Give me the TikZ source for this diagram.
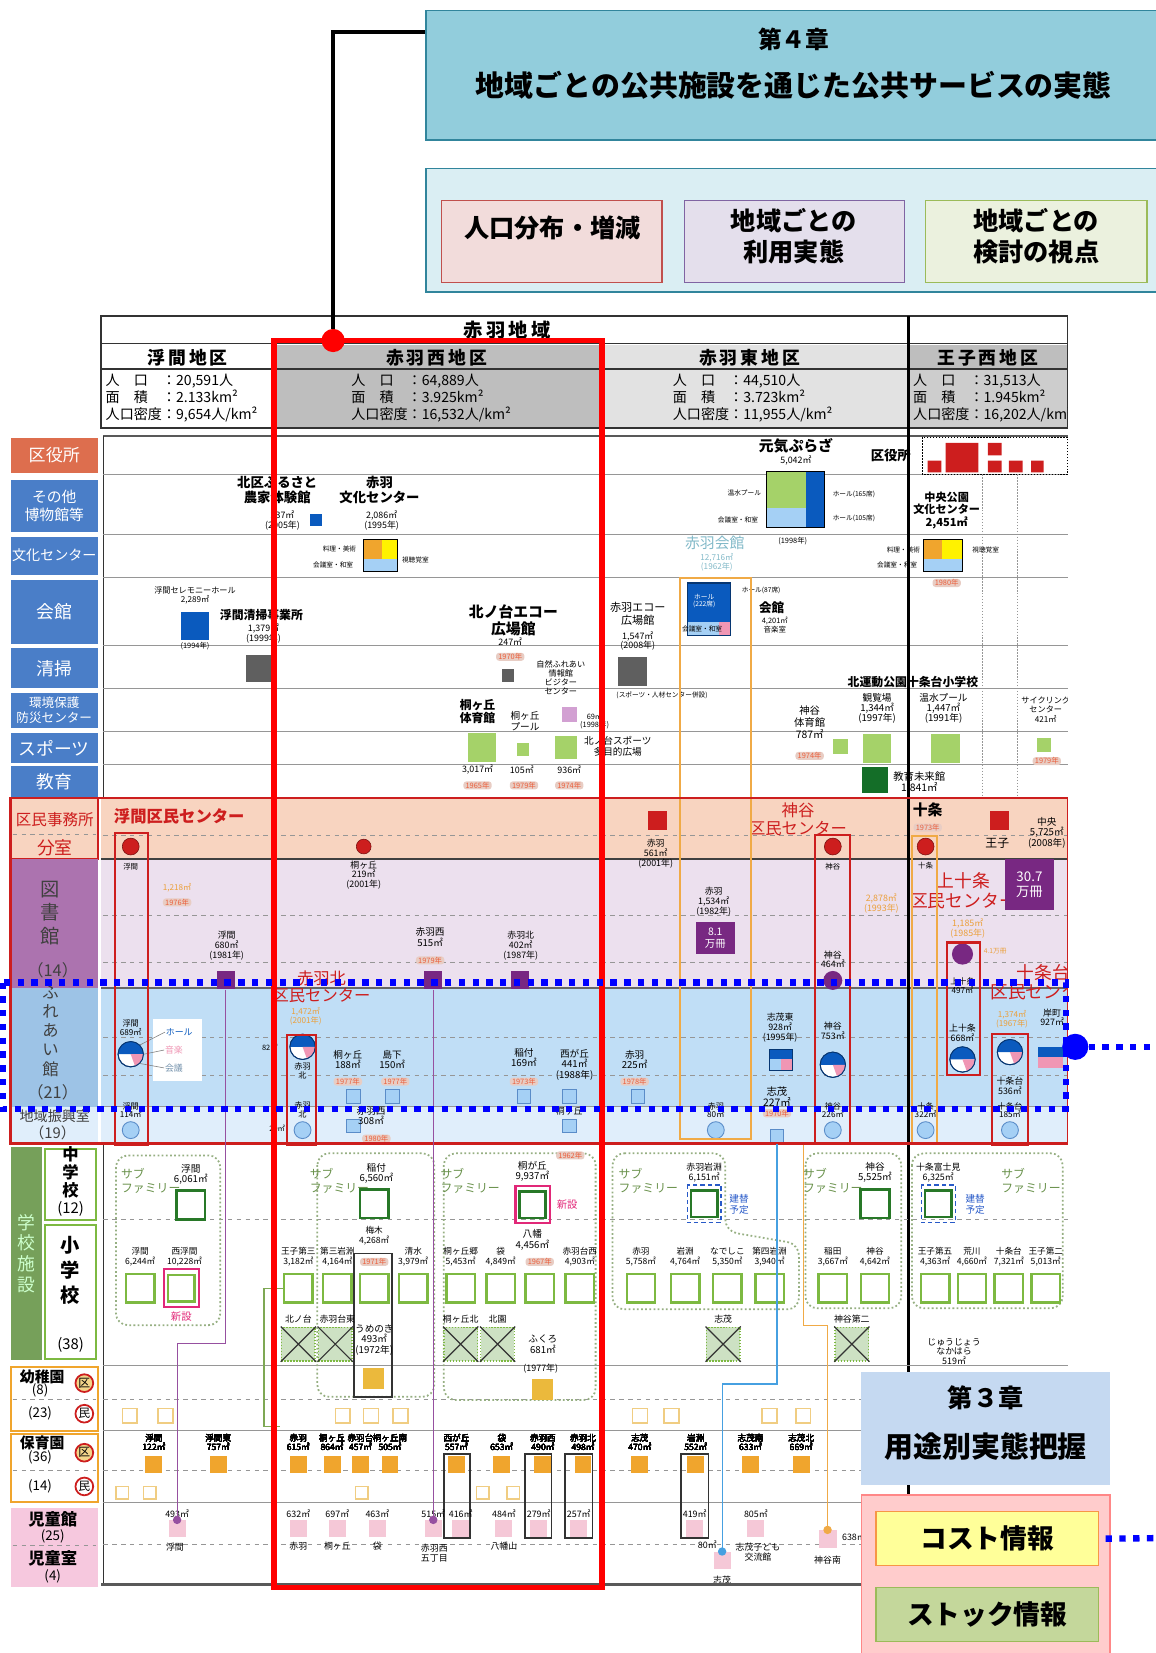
\documentclass[tikz,border=0pt]{standalone}
\usepackage{fontspec}
\setmainfont{Noto Sans CJK JP}
\usetikzlibrary{positioning,fit,calc}
\definecolor{chapteal}{RGB}{146,205,220}
\definecolor{chapedge}{RGB}{49,133,156}
\definecolor{chapbg}{RGB}{218,238,243}
\definecolor{popfill}{RGB}{242,220,219}
\definecolor{popedge}{RGB}{192,80,77}
\definecolor{usefill}{RGB}{228,223,236}
\definecolor{useedge}{RGB}{128,100,162}
\definecolor{viewfill}{RGB}{235,241,222}
\definecolor{viewedge}{RGB}{155,187,89}
\definecolor{chapblue}{RGB}{197,217,241}
\definecolor{infopink}{RGB}{255,204,204}
\definecolor{infoedge}{RGB}{255,135,135}
\definecolor{costyel}{RGB}{255,255,153}
\definecolor{costedge}{RGB}{247,150,70}
\definecolor{stockgrn}{RGB}{196,215,155}
\definecolor{catred}{RGB}{221,110,78}
\definecolor{catblue}{RGB}{74,126,200}
\definecolor{peach}{RGB}{248,212,192}
\definecolor{lavend}{RGB}{236,224,238}
\definecolor{libpurple}{RGB}{172,115,175}
\definecolor{libdark}{RGB}{120,40,130}
\definecolor{fureblue}{RGB}{192,222,246}
\definecolor{fureleft}{RGB}{157,195,230}
\definecolor{shinko}{RGB}{224,238,251}
\definecolor{schoolgrn}{RGB}{118,160,90}
\definecolor{esgreen}{RGB}{125,185,65}
\definecolor{jhsgreen}{RGB}{40,120,40}
\definecolor{subgrn}{RGB}{150,175,130}
\definecolor{subtext}{RGB}{105,145,75}
\definecolor{xfill}{RGB}{205,225,195}
\definecolor{kidorange}{RGB}{240,165,45}
\definecolor{kidline}{RGB}{240,205,130}
\definecolor{kidpink}{RGB}{246,200,222}
\definecolor{hallpink}{RGB}{245,200,215}
\definecolor{umeyel}{RGB}{235,185,60}
\definecolor{bandred}{RGB}{205,30,30}
\definecolor{facblue}{RGB}{10,90,190}
\definecolor{faclight}{RGB}{165,208,245}
\definecolor{facgreen}{RGB}{165,210,105}
\definecolor{facgrey}{RGB}{95,95,95}
\definecolor{facpink}{RGB}{240,150,180}
\definecolor{vispink}{RGB}{210,160,210}
\definecolor{mirai}{RGB}{20,110,40}
\definecolor{yrtext}{RGB}{235,95,60}
\definecolor{yrfill}{RGB}{232,205,196}
\definecolor{areatext}{RGB}{235,160,60}
\definecolor{gridgrey}{RGB}{150,150,150}
\definecolor{hdrgrey}{RGB}{190,190,190}
\definecolor{hdrlight}{RGB}{226,226,226}
\definecolor{hdrmid}{RGB}{205,205,205}
\definecolor{newpink}{RGB}{225,40,120}
\definecolor{planblue}{RGB}{40,90,200}
\definecolor{lineblue}{RGB}{70,160,225}
\definecolor{lineorange}{RGB}{240,170,70}
\definecolor{linepurple}{RGB}{150,80,160}
\definecolor{kaikanfaint}{RGB}{130,185,200}
\definecolor{shinkoedge}{RGB}{90,140,200}
\newcommand{\fs}[2]{\fontsize{#1}{#2}\selectfont}
\newcommand{\fac}[5]{\node[inner sep=0pt,minimum size=#3*0.025cm,#4] (#5) at (#1,#2) {};}
\newcommand{\halfc}[4]{%
  \node[circle,draw=facblue!60!black,fill=white,inner sep=0pt,minimum size=#3*0.05cm,line width=0.6pt] (#4) at (#1,#2) {};
  \fill[facblue] (#1,#2) ++(-#3,0) arc[start angle=180,end angle=360,radius=#3] -- cycle;
  \fill[facpink] (#1,#2) -- ++(#3,0) arc[start angle=0,end angle=70,radius=#3] -- cycle;
  \draw[facblue!60!black,line width=0.6pt] (#1,#2) circle[radius=#3];}
\newcommand{\xbox}[3]{%
  \node[inner sep=0pt,minimum size=32*0.025cm,fill=xfill,draw=esgreen,densely dotted,line width=1pt] (#3) at (#1,#2) {};
  \draw[black!80,line width=0.8pt] (#3.north west) -- (#3.south east) (#3.north east) -- (#3.south west);}

\begin{document}
\begin{tikzpicture}[x=0.025cm,y=-0.025cm,>=latex]
  \tikzset{box/.style={inner sep=0pt,align=center}}
  \tikzset{cat/.style={box,fill=catblue}}
  \tikzset{cattext/.style={inner sep=0pt,align=center,text=white,font=\fs{12}{14}}}
  \tikzset{lbl/.style={inner sep=0.4pt,align=center,font=\fs{6}{6.6}}}
  \tikzset{tinylbl/.style={inner sep=0.3pt,align=center,font=\fs{4.5}{5}}}
  \tikzset{fname/.style={inner sep=0.4pt,align=center,font=\bfseries\fs{9}{10}}}
  \tikzset{yr/.style={inner xsep=1.5pt,inner ysep=0.4pt,fill=yrfill,text=yrtext,rounded corners=2pt,font=\fs{5}{6}}}
  \tikzset{gridln/.style={gridgrey,line width=0.6pt}}
  \tikzset{gdash/.style={gridgrey,dashed,line width=0.5pt}}
  \tikzset{redbox/.style={draw=bandred,line width=1.4pt}}
  \tikzset{orgbox/.style={draw=lineorange,line width=1.4pt}}
  \tikzset{redtext/.style={inner sep=0.4pt,align=center,text=bandred,font=\fs{11}{12}}}
  \tikzset{arealbl/.style={inner sep=0.4pt,align=center,text=areatext,font=\fs{5.5}{6.2}}}
  \tikzset{rdot2/.style={circle,fill=bandred,draw=bandred!60!black,inner sep=0pt,minimum size=0.4cm}}
  \tikzset{svc/.style={circle,fill=faclight,draw=shinkoedge,inner sep=0pt,minimum size=0.4cm,line width=0.6pt}}
  \tikzset{es/.style={draw=esgreen,line width=1.6pt,fill=white}}
  \tikzset{jhs/.style={draw=jhsgreen,line width=1.8pt,fill=white}}
  \tikzset{subfam/.style={subgrn,line width=1.2pt,dash pattern=on 1.2pt off 1.6pt,rounded corners=8pt}}
  \tikzset{subl/.style={inner sep=0.4pt,align=left,text=subtext,font=\fs{8}{9}}}
  \tikzset{bdotline/.style={blue,line width=4.3pt,dash pattern=on 4.3pt off 5pt}}
  \useasboundingbox (0,0) rectangle (1096,1568);

  % chapter 4 block
  \node[box,fill=chapteal,draw=chapedge,line width=1pt,fit={(404,10)(1110,133)}] (ch4) {};
  \node[font=\bfseries\fs{16}{18}] (ch4no) at (753,37) {第４章};
  \node[font=\bfseries\fs{19.5}{22}] (ch4tt) at (753,81) {地域ごとの公共施設を通じた公共サービスの実態};
  \node[box,fill=chapbg,draw=chapedge,line width=1pt,fit={(404,160)(1110,277)}] (ch4b) {};
  \node[box,fill=popfill,draw=popedge,line width=0.8pt,fit={(419,190)(628,268)}] (pop) {};
  \node[font=\bfseries\fs{17}{20}] (popt) at (524,216) {人口分布・増減};
  \node[box,fill=usefill,draw=useedge,line width=0.8pt,fit={(649,190)(858,268)}] (use) {};
  \node[align=center,font=\bfseries\fs{17}{21}] (uset) at (753,224) {地域ごとの\\利用実態};
  \node[box,fill=viewfill,draw=viewedge,line width=0.8pt,fit={(878,190)(1088,268)}] (view) {};
  \node[align=center,font=\bfseries\fs{17}{21}] (viewt) at (983,224) {地域ごとの\\検討の視点};

  \begin{scope}
  \clip (0,290) rectangle (1013,1512);
  % header of the table
  \fill[hdrgrey] (262,327) rectangle (571,405);
  \fill[hdrlight] (571,327) rectangle (862,405);
  \fill[hdrgrey] (862,327) rectangle (1013,350);
  \fill[hdrmid] (862,350) rectangle (1013,405);
  \draw[line width=1.2pt,black!80] (96,300) rectangle (1013,406);
  \draw[line width=1pt,black!80] (96,326) -- (1013,326);
  \draw[line width=0.8pt,black!80] (96,350) -- (1013,350);
  \draw[line width=0.8pt,black!80] (260,326) -- (260,406) (571,326) -- (571,406);
  \node[font=\bfseries\fs{13}{15}] (region) at (481,313) {赤\,羽\,地\,域};
  \node[font=\bfseries\fs{12}{14}] (dUki) at (178,339) {浮\,間\,地\,区};
  \node[font=\bfseries\fs{12}{14}] (dNis) at (414,339) {赤\,羽\,西\,地\,区};
  \node[font=\bfseries\fs{12}{14}] (dHig) at (711,339) {赤\,羽\,東\,地\,区};
  \node[font=\bfseries\fs{12}{14}] (dOji) at (937,339) {王\,子\,西\,地\,区};
  \node[anchor=west,align=left,inner sep=0pt,font=\fs{9.5}{11.5}] (sUki) at (100,378) {人　口　：20,591人\\面　積　：2.133km²\\人口密度：9,654人/km²};
  \node[anchor=west,align=left,inner sep=0pt,font=\fs{9.5}{11.5}] (sNis) at (333,378) {人　口　：64,889人\\面　積　：3.925km²\\人口密度：16,532人/km²};
  \node[anchor=west,align=left,inner sep=0pt,font=\fs{9.5}{11.5}] (sHig) at (638,378) {人　口　：44,510人\\面　積　：3.723km²\\人口密度：11,955人/km²};
  \node[anchor=west,align=left,inner sep=0pt,font=\fs{9.5}{11.5}] (sOji) at (866,378) {人　口　：31,513人\\面　積　：1.945km²\\人口密度：16,202人/km²};

  % body frame and rows
  \draw[line width=1.4pt,black!65] (98,414) -- (1013,414);
  \draw[line width=0.8pt,black!80] (98,414) -- (98,1503);
  \foreach \yy in {450,507,548,612,653,694,725}
    \draw[gridln] (98,\yy) -- (1013,\yy);
  \draw[gridgrey,densely dotted,line width=1pt] (932,450) -- (932,815) (965,450) -- (965,815);

  % category column, upper part
  \node[box,fill=catred,fit={(10,415)(93,449)},label={[cattext,font=\fs{11.5}{13}]center:区役所}] (c-kuy) {};
  \node[cat,fit={(10,455)(93,505)},label={[cattext,font=\fs{10}{12}]center:{その他\\博物館等}}] (c-hak) {};
  \node[cat,fit={(10,509)(93,545)},label={[cattext,font=\fs{9.5}{11}]center:文化センター}] (c-bun) {};
  \node[cat,fit={(10,550)(93,611)},label={[cattext]center:会館}] (c-kai) {};
  \node[cat,fit={(10,615)(93,653)},label={[cattext]center:清掃}] (c-sei) {};
  \node[cat,fit={(10,657)(93,691)},label={[cattext,font=\fs{8.5}{10}]center:{環境保護\\防災センター}}] (c-kan) {};
  \node[cat,fit={(10,695)(93,724)},label={[cattext]center:スポーツ}] (c-spo) {};
  \node[cat,fit={(10,727)(93,757)},label={[cattext]center:教育}] (c-kyo) {};

  % upper facilities
  \node[fname] (furN) at (263,465) {北区ふるさと\\農家体験館};
  \node[lbl] (furA) at (268,494) {237㎡\\(2005年)};
  \fac{300}{493}{11}{fill=facblue}{furF}
  \node[fname] (abuN) at (360,465) {赤羽\\文化センター};
  \node[lbl] (abuA) at (362,494) {2,086㎡\\(1995年)};
  \fill[kidorange] (345,512) rectangle (362,530);
  \fill[yellow] (362,512) rectangle (377,530);
  \fill[faclight] (345,530) rectangle (377,542);
  \draw[line width=0.8pt] (345,512) rectangle (377,542);
  \node[tinylbl] (abuL1) at (322,521) {料理・美術};
  \node[tinylbl] (abuL2) at (316,536) {会議室・和室};
  \node[tinylbl] (abuL3) at (394,531) {視聴覚室};
  \node[lbl,font=\fs{5.5}{6.2}] (cerN) at (185,565) {浮間セレモニーホール\\2,289㎡};
  \fac{185}{594}{27}{fill=facblue}{cerF}
  \node[tinylbl,font=\fs{5}{6}] (cerY) at (185,613) {(1994年)};
  \node[lbl,font=\bfseries\fs{8}{9}] (ukcN) at (248,583) {浮間清掃事業所};
  \node[lbl] (ukcA) at (250,601) {1,379㎡\\(1999年)};
  \fac{246}{634}{25}{fill=facgrey}{ukcF}
  \node[fname,font=\bfseries\fs{10}{11.5}] (ecoN) at (487,588) {北ノ台エコー\\広場館};
  \node[lbl] (ecoA) at (484,609) {247㎡};
  \node[yr] (ecoY) at (484,623) {1970年};
  \fac{482}{641}{12}{fill=facgrey}{ecoF}
  \node[lbl,font=\fs{5.5}{6.2}] (vsN) at (532,643) {自然ふれあい\\情報館\\ビジター\\センター};
  \fac{540}{678}{14}{fill=vispink}{vsF}
  \node[lbl,font=\fs{5}{5.6}] (vsA) at (564,684) {69㎡\\(1998年)};
  \node[fname,font=\bfseries\fs{8}{9}] (kgyN) at (453,675) {桐ヶ丘\\体育館};
  \fac{457}{709}{27}{fill=facgreen}{kgyF}
  \node[lbl] (kgyA) at (453,730) {3,017㎡};
  \node[yr] (kgyY) at (453,745) {1965年};
  \node[lbl,font=\fs{6.5}{7.5}] (kgpN) at (498,684) {桐ヶ丘\\プール};
  \fac{496}{711}{12}{fill=facgreen}{kgpF}
  \node[lbl] (kgpA) at (495,730) {105㎡};
  \node[yr] (kgpY) at (497,745) {1979年};
  \fac{537}{709}{21}{fill=facgreen}{ksF}
  \node[lbl,font=\fs{6.5}{7.5}] (ksN) at (586,708) {北ノ台スポーツ\\多目的広場};
  \node[lbl] (ksA) at (540,730) {936㎡};
  \node[yr] (ksY) at (540,745) {1974年};
  \node[lbl,font=\fs{7.5}{8.5}] (aecN) at (605,582) {赤羽エコー\\広場館};
  \node[lbl] (aecA) at (605,608) {1,547㎡\\(2008年)};
  \fac{600}{637}{27}{fill=facgrey}{aecF}
  \node[tinylbl] (aecX) at (628,660) {(スポーツ・人材センター併設)};
  \node[lbl,font=\fs{10}{11},text=kaikanfaint] (akkN) at (678,515) {赤羽会館};
  \node[lbl,font=\fs{5.5}{6.2},text=kaikanfaint] (akkA) at (680,533) {12,716㎡\\(1962年)};
  \fill[facblue] (652,553) rectangle (693,590);
  \fill[faclight] (652,590) rectangle (682,603);
  \fill[facpink] (682,590) rectangle (693,603);
  \draw[line width=0.8pt,facblue!60!black] (652,553) rectangle (693,603);
  \node[tinylbl,text=white] (akkH) at (668,570) {ホール\\(222席)};
  \node[tinylbl] (akkL1) at (722,560) {ホール(87席)};
  \node[fname,font=\bfseries\fs{8.5}{9.5}] (akkN2) at (732,576) {会館};
  \node[lbl,font=\fs{5}{5.6}] (akkA2) at (735,593) {4,201㎡\\音楽室};
  \node[tinylbl] (akkL2) at (666,597) {会議室・和室};
  \node[fname,font=\bfseries\fs{10}{11}] (gpN) at (755,423) {元気ぷらざ};
  \node[lbl] (gpA) at (755,437) {5,042㎡};
  \fill[facgreen] (727,447) rectangle (765,482);
  \fill[faclight] (727,482) rectangle (765,500);
  \fill[facblue] (765,447) rectangle (782,500);
  \draw[line width=0.8pt] (727,447) rectangle (782,500);
  \node[tinylbl] (gpL1) at (706,468) {温水プール};
  \node[tinylbl] (gpL2) at (700,493) {会議室・和室};
  \node[tinylbl] (gpL3) at (810,469) {ホール(165席)};
  \node[tinylbl] (gpL4) at (810,492) {ホール(105席)};
  \node[lbl,font=\fs{5}{6}] (gpY) at (752,513) {(1998年)};
  \node[fname] (kyN) at (845,432) {区役所};
  \draw[black,densely dotted,line width=1pt] (875,415) rectangle (1013,450);
  \fill[bandred] (880,437) rectangle (893,448) (897,420) rectangle (928,448) (937,420) rectangle (950,432)
    (937,437) rectangle (950,448) (957,437) rectangle (970,448) (978,437) rectangle (990,448);
  \node[lbl,font=\bfseries\fs{7.5}{8.5}] (cpN) at (898,484) {中央公園\\文化センター\\2,451㎡};
  \fill[kidorange] (876,512) rectangle (894,530);
  \fill[yellow] (894,512) rectangle (913,530);
  \fill[faclight] (876,530) rectangle (913,542);
  \draw[line width=0.8pt] (876,512) rectangle (913,542);
  \node[tinylbl] (cpL1) at (857,522) {料理・美術};
  \node[tinylbl] (cpL2) at (851,536) {会議室・和室};
  \node[tinylbl] (cpL3) at (935,522) {視聴覚室};
  \node[yr] (cpY) at (898,553) {1980年};
  \node[fname,font=\bfseries\fs{8}{9}] (knpN) at (866,647) {北運動公園十条台小学校};
  \node[lbl,font=\fs{6.5}{7}] (kanN) at (832,672) {観覧場\\1,344㎡\\(1997年)};
  \fac{832}{710}{27}{fill=facgreen}{kanF}
  \node[lbl,font=\fs{6.5}{7}] (onsN) at (895,672) {温水プール\\1,447㎡\\(1991年)};
  \fac{897}{710}{27}{fill=facgreen}{onsF}
  \node[lbl,font=\fs{7}{7.8}] (kmtN) at (768,685) {神谷\\体育館\\787㎡};
  \node[yr] (kmtY) at (768,717) {1974年};
  \fac{797}{708}{14}{fill=facgreen}{kmtF}
  \fac{830}{740}{25}{fill=mirai}{mirF}
  \node[lbl,font=\fs{7}{7.5}] (mirN) at (872,742) {教育未来館\\1,841㎡};
  \node[yr] (mirY) at (828,764) {1956年};
  \node[lbl,font=\fs{5.5}{6.2}] (cycN) at (992,673) {サイクリング\\センター\\421㎡};
  \fac{990}{707}{13}{fill=facgreen}{cycF}
  \node[yr] (cycY) at (993,722) {1979年};

  % community band
  \fill[peach] (96,758) rectangle (1013,815);
  \fill[lavend] (96,815) rectangle (1013,937);
  \fill[fureblue] (96,937) rectangle (1013,1050);
  \fill[shinko] (96,1050) rectangle (1013,1083);
  \draw[line width=1pt,black!75] (96,815) -- (1013,815);
  \draw[line width=1pt,black!60] (96,937) -- (1013,937);
  \draw[gridln] (96,1050) -- (1013,1050);
  \foreach \yy in {792,868,913,984,1020}
    \draw[gdash] (98,\yy) -- (1013,\yy);
  \draw[line width=2.1pt] (862,300) -- (862,1503);
  \node[box,fill=peach,draw=bandred,line width=1pt,fit={(10,757)(93,815)}] (c-jim) {};
  \node[redtext,font=\fs{10.5}{12}] (t-jim) at (52,777) {区民事務所};
  \draw[gdash] (12,791) -- (91,791);
  \node[redtext,font=\fs{12}{13}] (t-bun) at (52,804) {分室};
  \node[box,fill=libpurple,fit={(10,815)(93,937)}] (c-lib) {};
  \node[align=center,text=black!75,font=\fs{13}{16}] (t-lib) at (48,866) {図\\書\\館};
  \node[text=black!75,font=\fs{11}{12}] (t-lib2) at (50,920) {（14）};
  \node[box,fill=fureleft,fit={(10,937)(93,1050)}] (c-fur) {};
  \node[align=center,text=black!75,font=\fs{11}{13}] (t-fur) at (48,978) {ふ\\れ\\あ\\い\\館};
  \node[text=black!75,font=\fs{11}{12}] (t-fur2) at (50,1036) {（21）};
  \node[box,fill=shinko,fit={(10,1050)(93,1083)}] (c-shi) {};
  \node[text=black!75,font=\fs{9.5}{11}] (t-shi) at (52,1059) {地域振興室};
  \node[text=black!75,font=\fs{10}{11}] (t-shi2) at (50,1075) {（19）};

  \node[redtext,font=\bfseries\fs{11}{12}] (ukcen) at (170,774) {浮間区民センター};
  \node[redtext] (kmcen) at (757,777) {神谷\\区民センター};
  \node[rdot2] (jdU) at (124,803) {};
  \node[rdot2,minimum size=0.35cm] (jdK) at (345,803) {};
  \node[rdot2] (jdKm) at (790,803) {};
  \node[rdot2] (jdJ) at (878,803) {};
  \node[tinylbl,font=\fs{5}{6}] (jdUl) at (124,822) {浮間};
  \node[lbl] (jdKl) at (345,830) {桐ヶ丘\\219㎡\\(2001年)};
  \node[tinylbl,font=\fs{5}{6}] (jdKml) at (790,822) {神谷};
  \node[tinylbl,font=\fs{5}{6}] (jdJl) at (878,821) {十条};
  \fac{624}{778}{18}{fill=bandred}{jdA}
  \node[lbl] (jdAl) at (622,810) {赤羽\\561㎡\\(2001年)};
  \fac{948}{778}{18}{fill=bandred}{jdO}
  \node[lbl,font=\fs{8}{9}] (jdOl) at (946,800) {王子};
  \node[lbl,font=\fs{6.5}{7.2}] (chuoN) at (993,790) {中央\\5,725㎡\\(2008年)};
  \node[fname,font=\bfseries\fs{10}{11}] (jujN) at (880,768) {十条};
  \node[yr] (jujY) at (880,785) {1973年};

  \node[arealbl] (lbUa) at (168,842) {1,218㎡};
  \node[yr] (lbUy) at (168,856) {1976年};
  \node[lbl] (lbUn) at (215,897) {浮間\\680㎡\\(1981年)};
  \fac{214}{930}{17}{fill=libdark}{lbU}
  \node[lbl,font=\fs{6.5}{7.2}] (lbWn) at (408,889) {赤羽西\\515㎡};
  \node[yr] (lbWy) at (408,911) {1979年};
  \fac{411}{930}{17}{fill=libdark}{lbW}
  \node[lbl] (lbNn) at (494,897) {赤羽北\\402㎡\\(1987年)};
  \fac{493}{930}{17}{fill=libdark}{lbN}
  \node[lbl] (lbAn) at (677,855) {赤羽\\1,534㎡\\(1982年)};
  \node[box,fill=libdark,fit={(660,875)(697,905)},label={[cattext,font=\fs{7}{8}]center:{8.1\\万冊}}] (lbAb) {};
  \node[arealbl,font=\fs{6}{6.6}] (lbAa) at (836,857) {2,878㎡\\(1993年)};
  \node[lbl] (lbKn) at (790,910) {神谷\\464㎡};
  \node[circle,fill=libdark,inner sep=0pt,minimum size=0.45cm] (lbK) at (790,930) {};
  \node[redtext,font=\fs{12}{13}] (kjcen) at (914,845) {上十条\\区民センター};
  \node[box,fill=libdark,fit={(953,815)(1000,863)},label={[cattext,font=\fs{9}{10}]center:{30.7\\万冊}}] (lbBig) {};
  \node[arealbl,font=\fs{6}{6.6}] (lbJa) at (918,881) {1,185㎡\\(1985年)};
  \node[circle,fill=libdark,inner sep=0pt,minimum size=0.5cm] (lbJ) at (913,905) {};
  \node[tinylbl,text=areatext] (lbJv) at (944,902) {4.1万冊};
  \node[lbl,font=\fs{5.5}{6.2}] (lbJn) at (913,935) {上十条\\497㎡};
  \node[redtext,font=\fs{12}{13}] (jdcen) at (990,932) {十条台\\区民センター};
  \node[redtext,font=\fs{11}{12}] (akcen) at (305,936) {赤羽北\\区民センター};
  \node[arealbl] (akcA) at (290,964) {1,472㎡\\(2001年)};

  % fureai-kan
  \node[lbl,font=\fs{5.5}{6.2}] (fuUn) at (124,975) {浮間\\689㎡};
  \halfc{124}{1000}{12}{fuU}
  \node[box,fill=white,fit={(145,967)(192,1025)}] (leg) {};
  \node[lbl,text=facblue] (legH) at (170,979) {ホール};
  \node[lbl,text=facpink] (legM) at (165,996) {音楽};
  \node[lbl,text=faclight!70!black] (legK) at (165,1013) {会議};
  \draw[gray,line width=0.4pt] (fuU.north east) -- (legH.west) (fuU.east) -- (legM.west) (fuU.south east) -- (legK.west);
  \node[tinylbl,font=\fs{5}{6}] (fu82) at (256,993) {82㎡};
  \halfc{287}{993}{12}{fuN}
  \node[lbl,font=\fs{5.5}{6.2}] (fuNn) at (287,1016) {赤羽\\北};
  \foreach \x/\y/\t/\sx in {330/1005/{桐ヶ丘\\188㎡}/335, 372/1005/{島下\\150㎡}/372, 497/1003/{稲付\\169㎡}/497, 545/1010/{西が丘\\441㎡\\(1988年)}/540, 602/1005/{赤羽\\225㎡}/605}
    {\node[lbl,font=\fs{6.5}{7}] (fl-\x) at (\x,\y) {\t};
     \fac{\sx}{1040}{13}{fill=faclight,draw=shinkoedge,line width=0.5pt}{fs-\x}}
  \node[yr] (fy1) at (330,1026) {1977年};
  \node[yr] (fy2) at (375,1026) {1977年};
  \node[yr] (fy3) at (497,1026) {1973年};
  \node[yr] (fy4) at (602,1026) {1978年};
  \node[lbl] (fuSn) at (740,975) {志茂東\\928㎡\\(1995年)};
  \fill[facblue] (730,995) rectangle (752,1005);
  \fill[faclight] (730,1005) rectangle (741,1015);
  \fill[facpink] (741,1005) rectangle (752,1015);
  \draw[line width=0.5pt,facblue!60!black] (730,995) rectangle (752,1015);
  \node[lbl] (fuKn) at (790,978) {神谷\\753㎡};
  \halfc{790}{1010}{12}{fuK}
  \node[lbl] (fuJn) at (913,980) {上十条\\668㎡};
  \halfc{913}{1005}{12}{fuJ}
  \node[arealbl] (fuDa) at (960,967) {1,374㎡\\(1967年)};
  \halfc{958}{998}{12}{fuD}
  \node[lbl] (fuDn) at (958,1030) {十条台\\536㎡};
  \node[lbl] (fuKsn) at (998,965) {岸町\\927㎡};
  \fill[facblue] (985,993) rectangle (1008,1003);
  \fill[facpink] (985,1003) rectangle (1008,1013);
  \node[lbl,font=\fs{7}{7.6}] (fuSmn) at (737,1040) {志茂\\227㎡};
  \node[yr] (fuSmy) at (737,1056) {1970年};

  % community promotion rooms
  \foreach \x/\t in {124/{浮間\\114㎡}, 287/{赤羽\\北}, 679/{赤羽\\80㎡}, 790/{神谷\\226㎡}, 878/{十条\\322㎡}, 958/{十条台\\185㎡}}
    {\node[svc] (sv-\x) at (\x,1072) {};
     \node[lbl,font=\fs{5.5}{6}] (svl-\x) at (\x,1053) {\t};}
  \fac{335}{1068}{13}{fill=faclight,draw=shinkoedge,line width=0.5pt}{svW}
  \node[lbl,font=\fs{6.5}{7}] (svWl) at (352,1058) {赤羽西\\308㎡};
  \node[yr] (svWy) at (357,1080) {1980年};
  \fac{540}{1068}{13}{fill=faclight,draw=shinkoedge,line width=0.5pt}{svK}
  \node[lbl] (svKl) at (540,1054) {桐ヶ丘};
  \fac{737}{1078}{13}{fill=faclight,draw=shinkoedge,line width=0.5pt}{shimoF}
  \node[tinylbl,font=\fs{5}{6}] (sv29) at (263,1070) {29㎡};

  % boxes around centres
  \draw[redbox] (109,790) rectangle (140,1086);
  \draw[redbox] (272,982) rectangle (300,1086);
  \draw[redbox] (773,792) rectangle (806,1085);
  \draw[redbox] (898,894) rectangle (930,1020);
  \draw[redbox] (941,981) rectangle (975,1086);
  \draw[orgbox] (645,548) rectangle (712,1080);
  \draw[orgbox] (865,793) rectangle (889,1085);
  \draw[bandred,line width=1.8pt] (10,757) rectangle (1013,1085);

  % schools
  \node[box,fill=schoolgrn,fit={(10,1088)(40,1290)},label={[cattext,text=white!80!green]center:{学\\校\\施\\設}}] (c-gak) {};
  \node[box,fill=white,draw=esgreen,line width=1.4pt,fit={(43,1090)(91,1157)}] (c-jhs) {};
  \node[align=center,font=\bfseries\fs{11}{12}] (t-jhs) at (67,1112) {中\\学\\校};
  \node[font=\fs{10}{11}] (t-jhs2) at (67,1147) {(12)};
  \node[box,fill=white,draw=esgreen,line width=1.4pt,fit={(43,1162)(91,1289)}] (c-es) {};
  \node[align=center,font=\bfseries\fs{13}{17}] (t-es) at (67,1205) {小\\学\\校};
  \node[font=\fs{10}{11}] (t-es2) at (67,1276) {(38)};
  \draw[gdash] (98,1157) -- (1013,1157);
  \draw[gridln] (98,1295) -- (1013,1295);
  \draw[gdash] (98,1327) -- (1013,1327);
  \draw[gridln] (98,1357) -- (1013,1357);
  \draw[gdash] (98,1395) -- (1013,1395);
  \draw[gridln] (98,1425) -- (1013,1425);
  \draw[gdash] (98,1465) -- (1013,1465);

  \draw[subfam] (110,1096) rectangle (209,1257);
  \draw[subfam] (301,1094) rectangle (412,1325);
  \draw[subfam] (421,1094) rectangle (565,1328);
  \draw[subfam] (581,1094) -- (688,1094) -- (688,1168) -- (758,1180) -- (758,1242) -- (581,1242) -- cycle;
  \draw[subfam] (764,1094) rectangle (855,1241);
  \draw[subfam] (865,1094) rectangle (1008,1241);
  \node[subl] (sf1) at (143,1120) {サブ\\ファミリー};
  \node[subl] (sf2) at (322,1120) {サブ\\ファミリー};
  \node[subl] (sf3) at (446,1120) {サブ\\ファミリー};
  \node[subl] (sf4) at (615,1120) {サブ\\ファミリー};
  \node[subl] (sf5) at (790,1120) {サブ\\ファミリー};
  \node[subl] (sf6) at (978,1120) {サブ\\ファミリー};

  \fac{181}{1143}{27}{jhs}{jU}
  \node[lbl,font=\fs{6.5}{7}] (jUl) at (181,1114) {浮間\\6,061㎡};
  \fac{355}{1142}{27}{jhs}{jI}
  \node[lbl,font=\fs{6.5}{7}] (jIl) at (357,1113) {稲付\\6,560㎡};
  \draw[newpink,line width=1.4pt] (489,1125) rectangle (522,1160);
  \fac{505}{1143}{25}{jhs}{jK}
  \node[lbl,font=\fs{6.5}{7}] (jKl) at (505,1111) {桐が丘\\9,937㎡};
  \node[lbl,text=newpink,font=\fs{7}{8}] (jKn) at (538,1143) {新設};
  \node[lbl,font=\fs{6.5}{7}] (jHl) at (505,1176) {八幡\\4,456㎡};
  \draw[planblue,densely dashed,line width=0.8pt] (652,1124) rectangle (684,1160);
  \fac{668}{1142}{25}{jhs}{jA}
  \node[lbl,font=\fs{6}{6.6}] (jAl) at (668,1112) {赤羽岩淵\\6,151㎡};
  \node[lbl,text=planblue,font=\fs{6.5}{7.5}] (jAp) at (701,1142) {建替\\予定};
  \fac{830}{1142}{27}{jhs}{jM}
  \node[lbl,font=\fs{6.5}{7}] (jMl) at (830,1112) {神谷\\5,525㎡};
  \draw[planblue,densely dashed,line width=0.8pt] (874,1124) rectangle (906,1160);
  \fac{890}{1142}{25}{jhs}{jJ}
  \node[lbl,font=\fs{6}{6.6}] (jJl) at (890,1112) {十条富士見\\6,325㎡};
  \node[lbl,text=planblue,font=\fs{6.5}{7.5}] (jJp) at (925,1142) {建替\\予定};

  \foreach \x/\t in {133/{浮間\\6,244㎡}, 283/{王子第三\\3,182㎡}, 320/{第三岩淵\\4,164㎡}, 392/{清水\\3,979㎡}, 437/{桐ヶ丘郷\\5,453㎡}, 475/{袋\\4,849㎡}, 550/{赤羽台西\\4,903㎡}, 608/{赤羽\\5,758㎡}, 650/{岩淵\\4,764㎡}, 690/{なでしこ\\5,350㎡}, 730/{第四岩淵\\3,940㎡}, 790/{稲田\\3,667㎡}, 830/{神谷\\4,642㎡}, 887/{王子第五\\4,363㎡}, 922/{荒川\\4,660㎡}, 957/{十条台\\7,321㎡}, 992/{王子第二\\5,013㎡}}
    {\fac{\x}{1222}{27}{es}{es-\x}
     \node[lbl,font=\fs{5.8}{6.4}] (esl-\x) at (\x,1192) {\t};}
  \fac{355}{1222}{27}{es}{es-355}
  \node[lbl,font=\fs{5.8}{6.4}] (esl-355) at (355,1172) {梅木\\4,268㎡};
  \node[yr] (esy-355) at (355,1197) {1971年};
  \fac{512}{1222}{27}{es}{es-512}
  \node[yr] (esy-512) at (512,1197) {1967年};
  \node[yr] (esy-top) at (541,1096) {1962年};
  \draw[newpink,line width=1.4pt] (156,1204) rectangle (189,1240);
  \fac{172}{1222}{25}{es}{es-172}
  \node[lbl,font=\fs{5.8}{6.4}] (esl-172) at (175,1192) {西浮間\\10,228㎡};
  \node[lbl,text=newpink,font=\fs{7}{8}] (esn-172) at (172,1249) {新設};
  \draw[line width=1pt,black!80] (336,1189) rectangle (372,1325);
  \xbox{283}{1275}{xb1}
  \xbox{318}{1275}{xb2}
  \xbox{437}{1275}{xb3}
  \xbox{472}{1275}{xb4}
  \xbox{686}{1275}{xb5}
  \xbox{808}{1275}{xb6}
  \node[lbl] (xb1l) at (283,1251) {北ノ台};
  \node[lbl] (xb2l) at (320,1251) {赤羽台東};
  \node[lbl] (xb3l) at (437,1251) {桐ヶ丘北};
  \node[lbl] (xb4l) at (472,1251) {北園};
  \node[lbl] (xb5l) at (686,1251) {志茂};
  \node[lbl] (xb6l) at (808,1251) {神谷第二};
  \node[lbl,font=\fs{6.5}{7}] (umeN) at (355,1271) {うめのき\\493㎡\\(1972年)};
  \fac{354}{1308}{20}{fill=umeyel}{umeF}
  \node[lbl,font=\fs{6.5}{7}] (fukN) at (515,1275) {ふくろ\\681㎡};
  \node[lbl] (fukY) at (513,1298) {(1977年)};
  \fac{515}{1318}{20}{fill=umeyel}{fukF}
  \node[lbl,font=\fs{6}{6.6}] (nakN) at (905,1282) {じゅうじょう\\なかはら\\519㎡};

  % kindergartens and nurseries
  \node[box,fill=white,draw=kidorange,line width=1.4pt,fit={(10,1297)(93,1357)}] (c-yo) {};
  \node[font=\bfseries\fs{10}{11}] (t-yo) at (40,1306) {幼稚園};
  \node[font=\fs{9}{10}] (t-yo2) at (38,1319) {(8)};
  \draw[gdash] (12,1327) -- (91,1327);
  \node[font=\fs{9}{10}] (t-yo3) at (38,1341) {(23)};
  \node[circle,draw=bandred,fill=umeyel!60,line width=1.2pt,inner sep=0pt,minimum size=0.42cm,font=\fs{8}{9}] (ku1) at (80,1312) {区};
  \node[circle,draw=bandred,fill=white,line width=1.2pt,inner sep=0pt,minimum size=0.42cm,font=\fs{8}{9}] (mi1) at (80,1341) {民};
  \node[box,fill=white,draw=kidorange,line width=1.4pt,fit={(10,1360)(93,1425)}] (c-ho) {};
  \node[font=\bfseries\fs{10}{11}] (t-ho) at (40,1369) {保育園};
  \node[font=\fs{9}{10}] (t-ho2) at (38,1382) {(36)};
  \draw[gdash] (12,1395) -- (91,1395);
  \node[font=\fs{9}{10}] (t-ho3) at (38,1410) {(14)};
  \node[circle,draw=bandred,fill=umeyel!60,line width=1.2pt,inner sep=0pt,minimum size=0.42cm,font=\fs{8}{9}] (ku2) at (80,1378) {区};
  \node[circle,draw=bandred,fill=white,line width=1.2pt,inner sep=0pt,minimum size=0.42cm,font=\fs{8}{9}] (mi2) at (80,1410) {民};
  \node[box,fill=kidpink,fit={(10,1430)(93,1505)}] (c-ji) {};
  \node[font=\bfseries\fs{11}{12}] (t-ji) at (50,1441) {児童館};
  \node[font=\fs{9}{10}] (t-ji2) at (50,1457) {(25)};
  \draw[gdash] (12,1466) -- (91,1466);
  \node[font=\bfseries\fs{11}{12}] (t-ji3) at (50,1478) {児童室};
  \node[font=\fs{9}{10}] (t-ji4) at (50,1495) {(4)};

  \foreach \x in {123,157,325,352,380,607,637,730,762}
    \fac{\x}{1343}{14}{fill=white,draw=kidline,line width=1pt}{pk-\x}
  \foreach \x/\t in {146/{浮間\\122㎡}, 207/{浮間東\\757㎡}, 283/{赤羽\\615㎡}, 315/{桐ヶ丘\\864㎡}, 342/{赤羽台\\457㎡}, 370/{桐ヶ丘南\\505㎡}, 433/{西が丘\\557㎡}, 476/{袋\\653㎡}, 515/{赤羽西\\490㎡}, 553/{赤羽北\\498㎡}, 607/{志茂\\470㎡}, 660/{岩淵\\552㎡}, 712/{志茂南\\633㎡}, 760/{志茂北\\669㎡}}
    {\fac{\x}{1389}{16}{fill=kidorange}{nf-\x}
     \node[lbl,font=\fs{5.8}{6.3}] (nfl-\x) at (\x,1368) {\t};}
  \foreach \x in {116,142,343,458,487}
    \fac{\x}{1416}{12}{fill=white,draw=kidline,line width=1pt}{pn-\x}
  \draw[line width=1pt,black!80] (421,1379) rectangle (446,1459) (498,1379) rectangle (523,1459)
    (536,1379) rectangle (562,1459) (646,1379) rectangle (672,1459);

  % children's halls
  \foreach \x/\a in {168/493㎡, 283/632㎡, 320/697㎡, 358/463㎡, 411/515㎡, 437/416㎡, 478/484㎡, 511/279㎡, 549/257㎡, 659/419㎡, 717/805㎡}
    {\fac{\x}{1450}{16}{fill=hallpink}{ch-\x}
     \node[lbl] (chl-\x) at (\x,1436) {\a};}
  \node[lbl] (chn-168) at (166,1468) {浮間};
  \node[lbl] (chn-283) at (283,1467) {赤羽};
  \node[lbl] (chn-320) at (320,1467) {桐ヶ丘};
  \node[lbl] (chn-358) at (358,1467) {袋};
  \node[lbl] (chn-411) at (412,1473) {赤羽西\\五丁目};
  \node[lbl] (chn-478) at (478,1467) {八幡山};
  \node[lbl] (chn-717) at (719,1472) {志茂子ども\\交流館};
  \fac{685}{1480}{16}{fill=hallpink}{chS}
  \node[lbl] (chSa) at (671,1465) {80㎡};
  \node[lbl] (chSn) at (685,1499) {志茂};
  \fac{785}{1460}{17}{fill=hallpink}{chKm}
  \node[lbl] (chKma) at (810,1458) {638㎡};
  \node[lbl] (chKmn) at (785,1480) {神谷南};

  % lines between facilities
  \coordinate (orgTop) at (762,1086);
  \coordinate (grEnd) at (266,1353);
  \draw[linepurple,line width=0.8pt] (lbU.south) -- ++(0,336) -| (ch-168.north);
  \draw[linepurple,line width=0.8pt] (lbW.south) -- (ch-411.north);
  \fill[linepurple] (ch-168.north) circle[radius=4] (ch-411.north) circle[radius=4];
  \draw[lineblue,line width=0.8pt] (shimoF.south) -- ++(0,228) -| (chS.north);
  \fill[lineblue] (chS.north) circle[radius=4];
  \draw[lineorange,line width=0.8pt] (orgTop) -- ++(0,171) -| (chKm.north);
  \fill[lineorange] (chKm.north) circle[radius=4];
  \draw[esgreen!70!gray,line width=0.8pt] (es-283.west) -- ++(-18,0) |- (grEnd);
  \draw[line width=1.4pt,black!65] (96,1503) -- (1013,1503);
  \end{scope}

  % highlight of the Akabane-nishi column
  \node[draw=red,line width=3.6pt,inner sep=0pt,fit={(260,323)(571,1506)}] (akw) {};
  \draw[bdotline] (3,932) rectangle (1011,1052);
  \node[circle,fill=blue,inner sep=0pt,minimum size=0.62cm] (bdot) at (1020,993) {};
  \coordinate (offR1) at (1100,993);
  \draw[bdotline] (bdot) -- (offR1);
  \node[circle,fill=red,inner sep=0pt,minimum size=0.55cm] (rdot) at (316,323) {};
  \draw[line width=2.8pt] (ch4.west |- 0,30) -| (rdot);

  % chapter 3 block
  \node[box,fill=chapblue,fit={(817,1301)(1053,1409)}] (ch3) {};
  \node[font=\bfseries\fs{17}{20}] (ch3no) at (935,1326) {第３章};
  \node[font=\bfseries\fs{19.5}{22}] (ch3tt) at (935,1372) {用途別実態把握};
  \node[box,fill=infopink,draw=infoedge,line width=1pt,fit={(817,1418)(1053,1580)}] (info) {};
  \node[box,fill=costyel,draw=costedge,line width=1pt,fit={(831,1434)(1042,1485)},label={[font=\bfseries\fs{18}{20}]center:コスト情報}] (cost) {};
  \node[box,fill=stockgrn,draw=viewedge,line width=1pt,fit={(831,1506)(1042,1557)},label={[font=\bfseries\fs{18}{20}]center:ストック情報}] (stock) {};
  \coordinate (offR2) at (1100,1459);
  \draw[bdotline] (cost.east) ++(6,0) -- (offR2);
\end{tikzpicture}
\end{document}
